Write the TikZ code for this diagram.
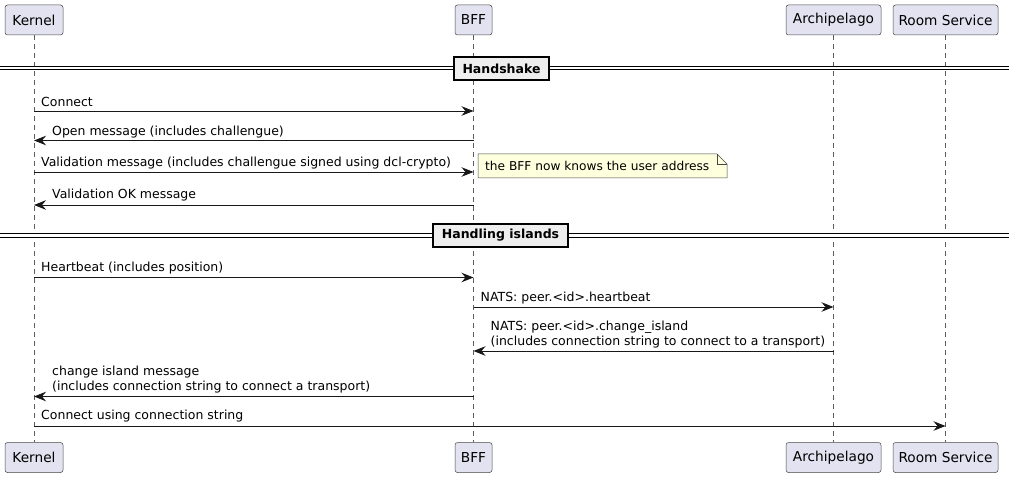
\documentclass[tikz,border=0pt]{standalone}
\usepackage{fontspec}
\setmainfont{DejaVu Sans}
\usetikzlibrary{arrows.meta}
\definecolor{partfill}{HTML}{E2E2F0}
\definecolor{lineclr}{HTML}{181818}
\definecolor{notefill}{HTML}{FEFFDD}
\definecolor{divfill}{HTML}{EEEEEE}
\begin{document}
\begin{tikzpicture}[x=1pt,y=-1pt,
 part/.style={draw=lineclr!80, fill=partfill, rounded corners=2.5pt, line width=0.5pt, minimum height=30pt, inner sep=0pt, font=\fontsize{13.7}{16}\selectfont},
 life/.style={draw=lineclr!70, dash pattern=on 4.5pt off 4.5pt, line width=0.6pt},
 msg/.style={draw=lineclr, line width=0.8pt, -{Stealth[length=12pt,width=9.5pt,inset=4pt]}},
 lbl/.style={anchor=west, inner sep=0pt, font=\fontsize{12.5}{15}\selectfont, align=left},
 divline/.style={draw=black, double=white, double distance=2.6pt, line width=0.9pt},
 divbox/.style={draw=black, fill=divfill, line width=1.4pt, minimum height=23pt, inner sep=0pt, font=\bfseries\fontsize{12.5}{15}\selectfont},
 notebox/.style={draw=lineclr!80, fill=notefill, line width=0.5pt}]
\useasboundingbox (0,0) rectangle (1009,478);
% participants
\node[part, minimum width=58pt] (k1) at (34,20) {Kernel};
\node[part, minimum width=37pt] (b1) at (473.5,20) {BFF};
\node[part, minimum width=95pt] (a1) at (833.5,20) {Archipelago};
\node[part, minimum width=105pt] (r1) at (945.5,20) {Room Service};
\node[part, minimum width=58pt] (k2) at (34,457.5) {Kernel};
\node[part, minimum width=37pt] (b2) at (473.5,457.5) {BFF};
\node[part, minimum width=95pt] (a2) at (833.5,457.5) {Archipelago};
\node[part, minimum width=105pt] (r2) at (945.5,457.5) {Room Service};
% lifelines
\draw[life] (k1.south) -- (k2.north);
\draw[life] (b1.south) -- (b2.north);
\draw[life] (a1.south) -- (a2.north);
\draw[life] (r1.south) -- (r2.north);
% dividers
\coordinate (d1l) at (0,68); \coordinate (d1r) at (1009,68);
\draw[divline] (d1l) -- (d1r);
\node[divbox, minimum width=95pt] (d1) at (501.5,68.5) {Handshake};
\coordinate (d2l) at (0,235.5); \coordinate (d2r) at (1009,235.5);
\draw[divline] (d2l) -- (d2r);
\node[divbox, minimum width=135pt] (d2) at (500.5,235.5) {Handling islands};
% message end points
\coordinate (m1s) at (34,111);   \coordinate (m1e) at (473.5,111);
\coordinate (m2s) at (473.5,140.5); \coordinate (m2e) at (34,140.5);
\coordinate (m3s) at (34,172);   \coordinate (m3e) at (473.5,172);
\coordinate (m4s) at (473.5,205); \coordinate (m4e) at (34,205);
\coordinate (m5s) at (34,277.5); \coordinate (m5e) at (473.5,277.5);
\coordinate (m6s) at (473.5,307); \coordinate (m6e) at (833.5,307);
\coordinate (m7s) at (833.5,351); \coordinate (m7e) at (473.5,351);
\coordinate (m8s) at (473.5,396.5); \coordinate (m8e) at (34,396.5);
\coordinate (m9s) at (34,426);   \coordinate (m9e) at (945.5,426);
% messages
\draw[msg] (m1s) -- (m1e);
\node[lbl] (t1) at (41,101.5) {Connect};
\draw[msg] (m2s) -- (m2e);
\node[lbl] (t2) at (52,132) {Open message (includes challengue)};
\draw[msg] (m3s) -- (m3e);
\node[lbl] (t3) at (41,163) {Validation message (includes challengue signed using dcl-crypto)};
\draw[msg] (m4s) -- (m4e);
\node[lbl] (t4) at (52,195.5) {Validation OK message};
\draw[msg] (m5s) -- (m5e);
\node[lbl] (t5) at (41,268.5) {Heartbeat (includes position)};
\draw[msg] (m6s) -- (m6e);
\node[lbl] (t6) at (480.5,298) {NATS: peer.<id>.heartbeat};
\draw[msg] (m7s) -- (m7e);
\node[lbl] (t7) at (490.5,334.5) {NATS: peer.<id>.change\_island\\(includes connection string to connect to a transport)};
\draw[msg] (m8s) -- (m8e);
\node[lbl] (t8) at (52,379.5) {change island message\\(includes connection string to connect a transport)};
\draw[msg] (m9s) -- (m9e);
\node[lbl] (t9) at (41,416) {Connect using connection string};
% note
\draw[notebox] (478,154) -- (717,154) -- (727,164) -- (727,178) -- (478,178) -- cycle;
\draw[notebox, fill=none] (717,154) -- (717,164) -- (727,164);
\node[lbl, font=\fontsize{12.2}{15}\selectfont] (note) at (485,166) {the BFF now knows the user address};
\end{tikzpicture}
\end{document}
